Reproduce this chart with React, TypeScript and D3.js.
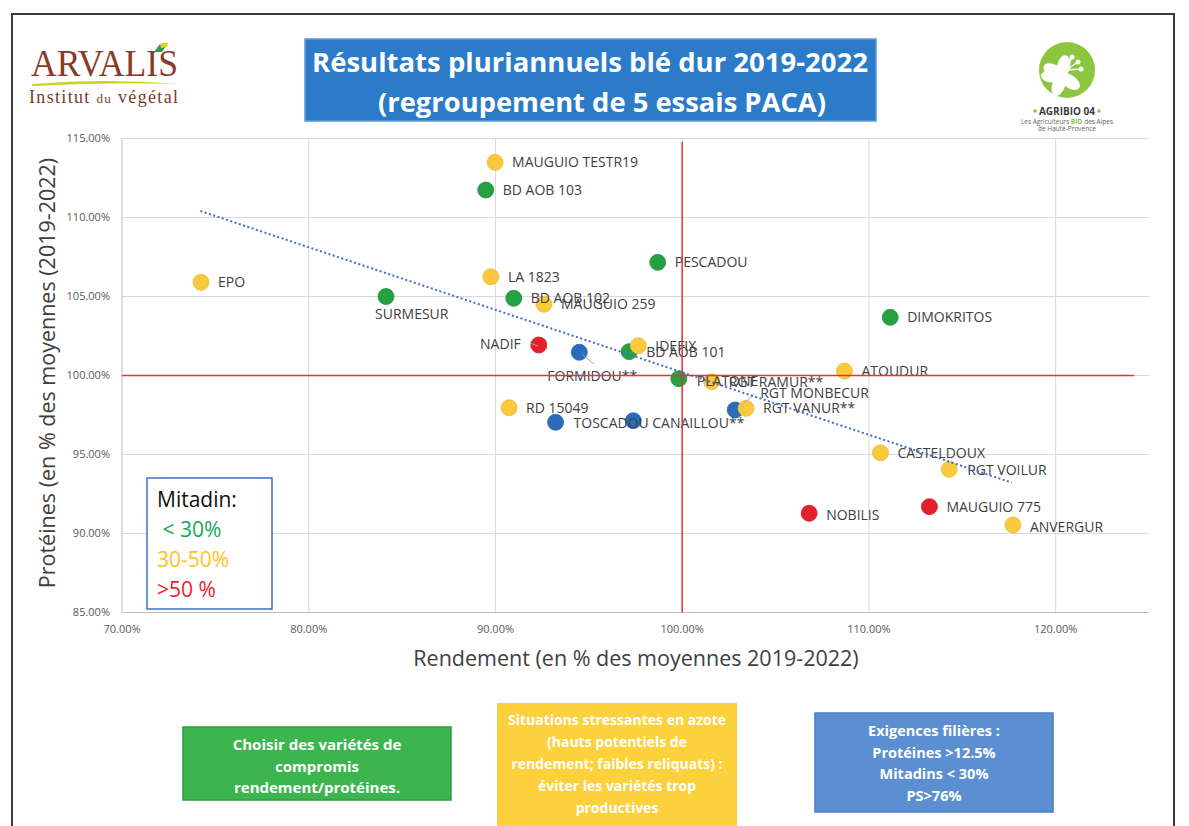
import React from "react";
import * as d3 from "d3";

// ---------- DATA ----------
const names = [
  "EPO", "SURMESUR", "MAUGUIO TESTR19", "BD AOB 103", "PESCADOU", "LA 1823",
  "BD AOB 102", "MAUGUIO 259", "NADIF", "FORMIDOU**", "BD AOB 101", "IDEFIX",
  "PLATONE", "RGT RAMUR**", "RGT MONBECUR", "RGT VANUR**", "RD 15049",
  "TOSCADOU", "CANAILLOU**", "DIMOKRITOS", "ATOUDUR", "CASTELDOUX",
  "RGT VOILUR", "NOBILIS", "MAUGUIO 775", "ANVERGUR",
];
const rendement = [
  74.23, 84.14, 89.98, 89.48, 98.69, 89.76,
  90.98, 92.6, 92.32, 94.49, 97.16, 97.65,
  99.82, 101.58, 102.84, 103.42, 90.73,
  93.22, 97.38, 111.14, 108.69, 110.62,
  114.3, 106.8, 113.24, 117.71,
];
const proteines = [
  105.9, 105.0, 113.49, 111.74, 107.16, 106.25,
  104.89, 104.51, 101.93, 101.47, 101.51, 101.89,
  99.8, 99.61, 97.82, 97.92, 97.96,
  97.04, 97.14, 103.68, 100.28, 95.11,
  94.06, 91.28, 91.7, 90.54,
];
// mitadin class: low (<30%), mid (30-50%), high (>50%), nd (not given)
const mitadin = [
  "mid", "low", "mid", "low", "low", "mid",
  "low", "mid", "high", "nd", "low", "mid",
  "low", "mid", "nd", "mid", "mid",
  "nd", "nd", "low", "mid", "mid",
  "mid", "high", "high", "mid",
];
const xTicks = [70, 80, 90, 100, 110, 120];
const yTicks = [85, 90, 95, 100, 105, 110, 115];
const xDomain = [70, 125];
const yDomain = [85, 115];
// trendline end points (Excel linear trend)
const trendX = [74.2, 117.65];
const trendY = [110.41, 93.22];
// red reference lines
const refHX = [70, 124.2];
const refHY = [100, 100];
const refVX = [100, 100];
const refVY = [85, 114.8];

const legendTitle = "Mitadin:";
const legendItems = [" < 30%", "30-50%", ">50 %"];
const legendKeys = ["low", "mid", "high"];

const titleLines = ["Résultats pluriannuels blé dur 2019-2022", "(regroupement de 5 essais PACA)"];
const box1Lines = ["Choisir des variétés de", "compromis", "rendement/protéines."];
const box2Lines = ["Situations  stressantes en azote", "(hauts potentiels de", "rendement; faibles reliquats) :", "éviter les variétés trop", "productives"];
const box3Lines = ["Exigences filières :", "Protéines >12.5%", "Mitadins < 30%", "PS>76%"];

// ---------- STYLE / LAYOUT ----------
const W = 1189, H = 826;
const pointColor: Record<string, string> = {
  low: "#25A043", mid: "#FBC93D", high: "#E3202B", nd: "#2B6CB8",
};
const legendColor: Record<string, string> = {
  low: "#14A84E", mid: "#FFC21A", high: "#EA1C2C",
};
const labelLayout: Record<string, { dx: number; dy: number; anchor?: string; leader?: number[] }> = {
  SURMESUR: { dx: -11, dy: 18 },
  NADIF: { dx: -18, dy: -1, anchor: "end", leader: [-9, -2, -1, 1] },
  "FORMIDOU**": { dx: -32, dy: 24, leader: [3, 2, 15, 12] },
  PLATONE: { dx: 18, dy: 2 },
  "RGT MONBECUR": { dx: 25, dy: -17, leader: [6, -4, 19, -16] },
  "CANAILLOU**": { dx: 19, dy: 2 },
  TOSCADOU: { dx: 18, dy: 1 },
  "RGT VOILUR": { dx: 18, dy: 1 },
  NOBILIS: { dx: 17, dy: 2 },
  ANVERGUR: { dx: 17, dy: 2 },
};

const FONT = "'Open Sans', 'DejaVu Sans', sans-serif";

export default function App() {
  const x = d3.scaleLinear().domain(xDomain).range([122, 1149]);
  const y = d3.scaleLinear().domain(yDomain).range([612.5, 138.5]);
  const line = d3.line<[number, number]>().x((d) => x(d[0])).y((d) => y(d[1]));
  const trend = line(trendX.map((v, i) => [v, trendY[i]] as [number, number]));
  const refH = line(refHX.map((v, i) => [v, refHY[i]] as [number, number]));
  const refV = line(refVX.map((v, i) => [v, refVY[i]] as [number, number]));
  const fmt = (v: number) => v.toFixed(2) + "%";

  const points = names.map((n, i) => ({ n, x: x(rendement[i]), y: y(proteines[i]), c: mitadin[i] }));

  return (
    <svg width={W} height={H} style={{ position: "absolute", left: 0, top: 0, background: "#fff" }} fontFamily={FONT}>
      <rect x={0} y={0} width={W} height={H} fill="#fff" />
      {/* outer frame */}
      <rect x={12} y={14} width={1162} height={840} fill="none" stroke="#3a3a3a" strokeWidth={2} />

      {/* ARVALIS logo */}
      <g>
        <text x={31} y={76} fontFamily="'Liberation Serif', 'DejaVu Serif', serif" fontSize={37} fill="#8A3B27" textLength={147} lengthAdjust="spacingAndGlyphs">ARVALIS</text>
        <path d="M154,52 L160,44 L168,43 L162,52 Z" fill="#2E9B46" />
        <path d="M160,44 L168,43 L167,47 L161,48 Z" fill="#E3D21F" />
        <path d="M32,84 Q105,78 178,84 Q105,82 32,86 Z" fill="#C9D41C" />
        <text x={29} y={103} fontFamily="'Liberation Serif', 'DejaVu Serif', serif" fontSize={18} fill="#7B3A2C" textLength={149} lengthAdjust="spacing">
          Institut <tspan fontSize={13}>du</tspan> végétal
        </text>
      </g>

      {/* Title box */}
      <rect x={305} y={39} width={571} height={82} fill="#2C7BC8" stroke="#5A9BDB" strokeWidth={1.5} />
      <text x={590} y={72} textAnchor="middle" fill="#fff" fontWeight={700} fontSize={27} textLength={556} lengthAdjust="spacingAndGlyphs">{titleLines[0]}</text>
      <text x={602} y={112} textAnchor="middle" fill="#fff" fontWeight={700} fontSize={27} textLength={448} lengthAdjust="spacingAndGlyphs">{titleLines[1]}</text>

      {/* AGRIBIO logo */}
      <g>
        <circle cx={1067} cy={70} r={28} fill="#8CC63F" />
        {[-150, -80, 110, 180, 35].map((a, i) => (
          <ellipse key={i} cx={1062 + 10 * Math.cos((a * Math.PI) / 180)} cy={76 + 10 * Math.sin((a * Math.PI) / 180)} rx={6.5} ry={11}
            transform={`rotate(${a + 90} ${1062 + 10 * Math.cos((a * Math.PI) / 180)} ${76 + 10 * Math.sin((a * Math.PI) / 180)})`} fill="#fff" />
        ))}
        <circle cx={1062} cy={76} r={6} fill="#fff" />
        {[[1072, 57], [1078, 62], [1081, 69]].map((p, i) => (
          <g key={i}>
            <line x1={1066} y1={70} x2={p[0]} y2={p[1]} stroke="#fff" strokeWidth={1.5} />
            <circle cx={p[0]} cy={p[1]} r={2.5} fill="#fff" />
          </g>
        ))}
        <circle cx={1035} cy={111} r={1.8} fill="#8CC63F" />
        <circle cx={1099} cy={111} r={1.8} fill="#8CC63F" />
        <text x={1067} y={114.5} textAnchor="middle" fontSize={10} fontWeight={700} fill="#3d3d3d">AGRIBIO 04</text>
        <text x={1067} y={123.5} textAnchor="middle" fontSize={6.5} fill="#666">Les Agriculteurs <tspan fill="#8CC63F" fontWeight={700}>BIO</tspan> des Alpes</text>
        <text x={1067} y={131} textAnchor="middle" fontSize={6.5} fill="#666">de Haute-Provence</text>
      </g>

      {/* gridlines */}
      {yTicks.slice(1).map((t) => (
        <line key={"gy" + t} x1={122} x2={1149} y1={y(t)} y2={y(t)} stroke="#D9D9D9" strokeWidth={1} />
      ))}
      {xTicks.slice(1).map((t) => (
        <line key={"gx" + t} x1={x(t)} x2={x(t)} y1={y(85)} y2={y(115)} stroke="#D9D9D9" strokeWidth={1} />
      ))}
      {/* axes */}
      <line x1={122} x2={1149} y1={y(85)} y2={y(85)} stroke="#BFBFBF" strokeWidth={1} />
      <line x1={122} x2={122} y1={y(85)} y2={y(115)} stroke="#BFBFBF" strokeWidth={1} />
      {yTicks.map((t) => (
        <text key={"ty" + t} x={110} y={y(t)} dy="0.35em" textAnchor="end" fontSize={11} fill="#595959">{fmt(t)}</text>
      ))}
      {xTicks.map((t) => (
        <text key={"tx" + t} x={x(t)} y={629} dy="0.35em" textAnchor="middle" fontSize={11} fill="#595959">{fmt(t)}</text>
      ))}
      <text x={636} y={658} dy="0.35em" textAnchor="middle" fontSize={21.5} fill="#404040">Rendement (en % des moyennes 2019-2022)</text>
      <text transform={`translate(47,373) rotate(-90)`} dy="0.35em" textAnchor="middle" fontSize={21.5} fill="#404040">Protéines (en % des moyennes (2019-2022)</text>

      {/* points */}
      {points.map((p) => (
        <circle key={"p" + p.n} cx={p.x} cy={p.y} r={8} fill={pointColor[p.c]} stroke={d3.color(pointColor[p.c])!.darker(0.2).toString()} strokeWidth={0.8} />
      ))}
      {/* leader lines */}
      {points.map((p) => {
        const l = labelLayout[p.n];
        if (!l || !l.leader) return null;
        return <line key={"l" + p.n} x1={p.x + l.leader[0]} y1={p.y + l.leader[1]} x2={p.x + l.leader[2]} y2={p.y + l.leader[3]} stroke="#A6A6A6" strokeWidth={1} />;
      })}
      {/* labels */}
      {points.map((p) => {
        const l = labelLayout[p.n] || { dx: 17, dy: 0 };
        return (
          <text key={"t" + p.n} x={p.x + l.dx} y={p.y + l.dy} dy="0.35em" textAnchor={l.anchor || "start"} fontSize={14} fill="#404040">{p.n}</text>
        );
      })}

      {/* reference lines and trend */}
      <path d={refH!} stroke="#E8313C" strokeWidth={1.5} fill="none" />
      <path d={refV!} stroke="#E8313C" strokeWidth={1.5} fill="none" />
      <path d={trend!} stroke="#3F6FC4" strokeWidth={2} strokeDasharray="2 2.5" fill="none" />

      {/* legend box */}
      <rect x={147} y={478} width={125} height={131} fill="#fff" stroke="#3E6FC6" strokeWidth={1.5} />
      <text x={157} y={507} fontSize={21} fill="#111">{legendTitle}</text>
      {legendItems.map((t, i) => (
        <text key={"lg" + i} x={157} y={537 + i * 30} fontSize={21} fill={legendColor[legendKeys[i]]} style={{ whiteSpace: "pre" }}>{t}</text>
      ))}

      {/* bottom boxes */}
      <rect x={183} y={727} width={268} height={73} fill="#3DB54F" stroke="#2F9F45" strokeWidth={1.5} />
      {box1Lines.map((t, i) => (
        <text key={"b1" + i} x={317} y={745 + i * 21.5} dy="0.35em" textAnchor="middle" fontSize={15} fontWeight={700} fill="#fff">{t}</text>
      ))}
      <rect x={497} y={703} width={240} height={130} fill="#FDD13C" />
      {box2Lines.map((t, i) => (
        <text key={"b2" + i} x={617} y={720 + i * 22} dy="0.35em" textAnchor="middle" fontSize={14} fontWeight={700} fill="#fff">{t}</text>
      ))}
      <rect x={815} y={713} width={238} height={99} fill="#5B8FD2" stroke="#4A7CC2" strokeWidth={1.5} />
      {box3Lines.map((t, i) => (
        <text key={"b3" + i} x={934} y={731 + i * 21.7} dy="0.35em" textAnchor="middle" fontSize={14.5} fontWeight={700} fill="#fff">{t}</text>
      ))}
    </svg>
  );
}
